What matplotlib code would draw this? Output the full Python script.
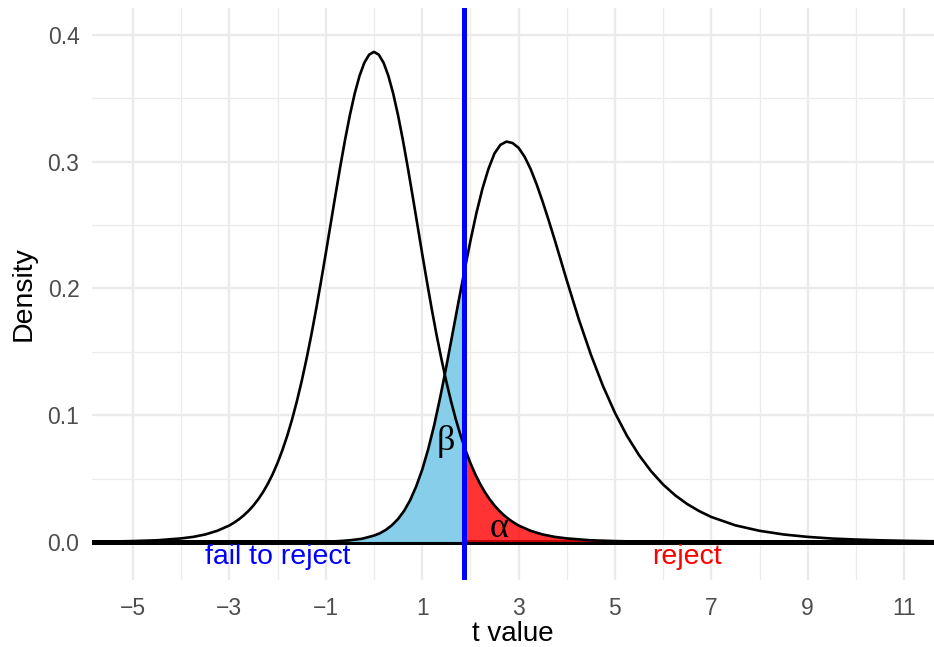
import matplotlib
matplotlib.use("Agg")
import matplotlib.pyplot as plt
from matplotlib.patches import Rectangle

# null distribution (central t)
t_null = [-8.0, -7.0, -6.0, -5.5, -5.0, -4.5, -4.0, -3.75, -3.5, -3.25,
          -3.0, -2.9, -2.8, -2.7, -2.6, -2.5, -2.4, -2.3, -2.2, -2.1,
          -2.0, -1.9, -1.8, -1.7, -1.6, -1.5, -1.4, -1.3, -1.2, -1.1,
          -1.0, -0.9, -0.8, -0.7, -0.6, -0.5, -0.4, -0.3, -0.2, -0.1,
          0.0, 0.1, 0.2, 0.3, 0.4, 0.5, 0.6, 0.7, 0.8, 0.9,
          1.0, 1.1, 1.2, 1.3, 1.4, 1.5, 1.6, 1.7, 1.8, 1.9,
          2.0, 2.1, 2.2, 2.3, 2.4, 2.5, 2.6, 2.7, 2.8, 2.9,
          3.0, 3.25, 3.5, 3.75, 4.0, 4.5, 5.0, 5.5, 6.0, 7.0,
          8.0, 10.0, 12.0]
d_null = [0.0, 0.0001, 0.0002, 0.0003, 0.0007, 0.0013, 0.0028, 0.0040, 0.0059, 0.0088,
          0.0130, 0.0153, 0.0179, 0.0210, 0.0246, 0.0288, 0.0337, 0.0394, 0.0460, 0.0536,
          0.0624, 0.0724, 0.0837, 0.0965, 0.1109, 0.1268, 0.1443, 0.1632, 0.1836, 0.2052,
          0.2276, 0.2506, 0.2735, 0.2959, 0.3172, 0.3367, 0.3537, 0.3677, 0.3781, 0.3845,
          0.3867, 0.3845, 0.3781, 0.3677, 0.3537, 0.3367, 0.3172, 0.2959, 0.2735, 0.2506,
          0.2276, 0.2052, 0.1836, 0.1632, 0.1443, 0.1268, 0.1109, 0.0965, 0.0837, 0.0724,
          0.0624, 0.0536, 0.0460, 0.0394, 0.0337, 0.0288, 0.0246, 0.0210, 0.0179, 0.0153,
          0.0130, 0.0088, 0.0059, 0.0040, 0.0028, 0.0013, 0.0007, 0.0003, 0.0002, 0.0001,
          0.0, 0.0, 0.0]

# alternative distribution (shifted t)
t_alt = [-8.0, -3.0, -2.0, -1.5, -1.0, -0.75, -0.5, -0.25,
         0.0, 0.125, 0.25, 0.375, 0.5, 0.625, 0.75, 0.875,
         1.0, 1.125, 1.25, 1.375, 1.5, 1.625, 1.75, 1.875,
         2.0, 2.125, 2.25, 2.375, 2.5, 2.625, 2.75, 2.875,
         3.0, 3.125, 3.25, 3.375, 3.5, 3.625, 3.75, 3.875,
         4.0, 4.25, 4.5, 4.75, 5.0, 5.25, 5.5, 5.75,
         6.0, 6.25, 6.5, 6.75, 7.0, 7.5, 8.0, 8.5,
         9.0, 9.5, 10.0, 10.5, 11.0, 11.5, 12.0]
d_alt = [0.0, 0.0, 0.00003, 0.0001, 0.0003, 0.0006, 0.0013, 0.0025,
         0.0050, 0.0069, 0.0096, 0.0133, 0.0181, 0.0245, 0.0329, 0.0437,
         0.0569, 0.0731, 0.0922, 0.1142, 0.1381, 0.1633, 0.1886, 0.2134,
         0.2373, 0.2594, 0.2786, 0.2943, 0.3065, 0.3134, 0.3159, 0.3148,
         0.3110, 0.3040, 0.2943, 0.2822, 0.2685, 0.2538, 0.2384, 0.2225,
         0.2065, 0.1757, 0.1479, 0.1232, 0.1019, 0.0837, 0.0685, 0.0558,
         0.0453, 0.0368, 0.0299, 0.0243, 0.0197, 0.0131, 0.0088, 0.0059,
         0.0040, 0.0027, 0.0019, 0.0013, 0.0009, 0.0006, 0.0004]

t_crit = 1.86

x_major = [-5, -3, -1, 1, 3, 5, 7, 9, 11]
x_minor = [-4, -2, 0, 2, 4, 6, 8, 10]
y_major = [0.0, 0.1, 0.2, 0.3, 0.4]
y_minor = [0.05, 0.15, 0.25, 0.35]

sans = "Liberation Sans"
serif = "Liberation Serif"

fig = plt.figure(figsize=(9.34, 6.47), dpi=100)
ax = fig.add_axes([0.0985, 0.1036, 0.9015, 0.884])
xmin, xmax = -5.85, 11.62
ax.set_xlim(xmin, xmax)
ax.set_ylim(-0.030, 0.4213)

for s in ax.spines.values():
    s.set_visible(False)

for x in x_minor:
    ax.axvline(x, color="#EBEBEB", lw=0.9, zorder=0)
for y in y_minor:
    ax.axhline(y, color="#EBEBEB", lw=0.9, zorder=0)
for x in x_major:
    ax.axvline(x, color="#EBEBEB", lw=1.7, zorder=0)
for y in y_major:
    ax.axhline(y, color="#EBEBEB", lw=1.7, zorder=0)

# zero line
ax.axhline(0, color="black", lw=3.6, zorder=1)

# beta area: alt curve left of the critical value
beta = ax.fill_between(t_alt, d_alt, 0, color="#87CEEB", lw=0, zorder=2)
beta.set_clip_path(Rectangle((xmin - 1, -1), t_crit - xmin + 1, 2, transform=ax.transData))
# alpha area: null curve right of the critical value
alpha = ax.fill_between(t_null, d_null, 0, color="red", alpha=0.8, lw=0, zorder=2)
alpha.set_clip_path(Rectangle((t_crit, -1), xmax - t_crit + 1, 2, transform=ax.transData))

ax.plot(t_null, d_null, color="black", lw=1.9, zorder=3,
        solid_joinstyle="round", solid_capstyle="round")
ax.plot(t_alt, d_alt, color="black", lw=1.9, zorder=3,
        solid_joinstyle="round", solid_capstyle="round")

ax.axvline(t_crit, color="blue", lw=3.6, zorder=4)

ax.text(1.49, 0.079, "β", family=serif, fontsize=26, ha="center", va="center", zorder=5)
ax.text(2.6, 0.011, "α", family=serif, fontsize=26, ha="center", va="center", zorder=5)
ax.text(-2.0, -0.0115, "fail to reject", family=sans, fontsize=20.5, color="blue",
        ha="center", va="center", zorder=5)
ax.text(6.5, -0.0115, "reject", family=sans, fontsize=20.5, color="red",
        ha="center", va="center", zorder=5)

ax.set_xticks(x_major)
ax.set_xticklabels(["\u22125", "\u22123", "\u22121", "1", "3", "5", "7", "9", "11"])
ax.set_yticks(y_major)
ax.set_yticklabels(["0.0", "0.1", "0.2", "0.3", "0.4"])
ax.tick_params(axis="x", length=0, labelsize=16.5, labelcolor="#4D4D4D", pad=12)
ax.tick_params(axis="y", length=0, labelsize=16.5, labelcolor="#4D4D4D", pad=9)
for lab in ax.get_xticklabels() + ax.get_yticklabels():
    lab.set_family(sans)

ax.set_xlabel("t value", family=sans, fontsize=20, labelpad=1)
ax.set_ylabel("Density", family=sans, fontsize=20.5, labelpad=8)

fig.savefig("out.png", dpi=100)
